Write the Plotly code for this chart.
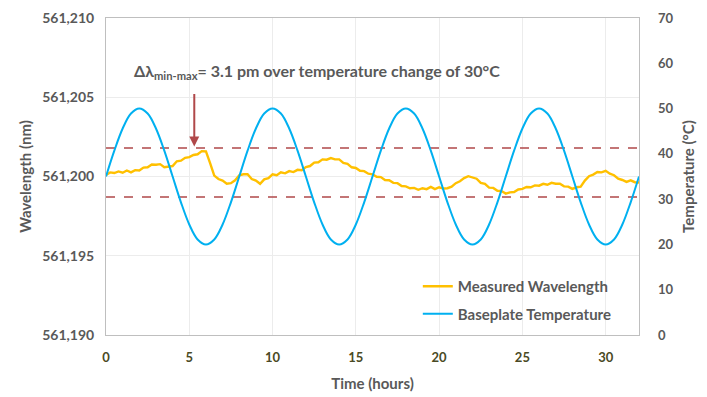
import plotly.graph_objects as go

# ---- data ----
time_wl = [i * 0.25 for i in range(129)]  # hours
# measured wavelength, offset from 561.200 nm in pm
wl_offset_pm = [
    0.10, 0.26, 0.22, 0.32, 0.24, 0.38, 0.26, 0.40, 0.38, 0.56, 0.58, 0.76, 0.74, 0.78, 0.58, 0.62,
    0.66, 0.96, 1.00, 1.18, 1.22, 1.36, 1.40, 1.60, 1.58, 0.85, 0.06, -0.16, -0.26, -0.46, -0.42, -0.24,
    0.08, 0.14, 0.14, -0.16, -0.26, -0.46, -0.18, -0.10, 0.14, 0.08, 0.26, 0.20, 0.34, 0.28, 0.42, 0.40,
    0.60, 0.66, 0.88, 0.90, 1.08, 1.06, 1.16, 1.08, 1.08, 0.86, 0.80, 0.58, 0.54, 0.36, 0.34, 0.18,
    0.14, -0.02, -0.04, -0.22, -0.24, -0.40, -0.42, -0.60, -0.62, -0.74, -0.72, -0.84, -0.74, -0.80, -0.66, -0.80,
    -0.68, -0.76, -0.74, -0.64, -0.42, -0.30, -0.10, 0.02, -0.06, -0.14, -0.40, -0.46, -0.70, -0.72, -0.90, -0.92,
    -1.08, -1.00, -0.98, -0.82, -0.78, -0.66, -0.68, -0.56, -0.58, -0.46, -0.52, -0.40, -0.46, -0.46, -0.62, -0.64,
    -0.78, -0.68, -0.64, -0.26, 0.02, 0.12, 0.28, 0.26, 0.36, 0.18, 0.08, -0.14, -0.22, -0.34, -0.24, -0.36,
    -0.38,
]
wl_base_nm = 561.200

time_temp = [i * 0.5 for i in range(65)]
temp_c = [
    35, 40.7, 45.6, 48.9, 50, 48.9, 45.6, 40.7, 35, 29.3, 24.4, 21.1, 20, 21.1, 24.4, 29.3,
    35, 40.7, 45.6, 48.9, 50, 48.9, 45.6, 40.7, 35, 29.3, 24.4, 21.1, 20, 21.1, 24.4, 29.3,
    35, 40.7, 45.6, 48.9, 50, 48.9, 45.6, 40.7, 35, 29.3, 24.4, 21.1, 20, 21.1, 24.4, 29.3,
    35, 40.7, 45.6, 48.9, 50, 48.9, 45.6, 40.7, 35, 29.3, 24.4, 21.1, 20, 21.1, 24.4, 29.3,
    35,
]

wl_max_line = 561.2018
wl_min_line = 561.1987
x_ticks = [0, 5, 10, 15, 20, 25, 30]
wl_ticks = [561.190, 561.195, 561.200, 561.205, 561.210]
temp_ticks = [0, 10, 20, 30, 40, 50, 60, 70]
arrow_x = 5.3
arrow_tip = 561.2019
arrow_tail = 561.2053

wl_nm = [wl_base_nm + v / 1000.0 for v in wl_offset_pm]

GRAY = "#595959"
FONT = "Lato"

fig = go.Figure()
fig.add_trace(go.Scatter(x=time_wl, y=wl_nm, mode="lines", name="Measured Wavelength",
                         legendgroup="a",
                         line=dict(color="#FFC000", width=2.4), yaxis="y"))
fig.add_trace(go.Scatter(x=time_temp, y=temp_c, mode="lines", name="Baseplate Temperature",
                         legendgroup="b",
                         line=dict(color="#00B0F0", width=2, shape="spline"), yaxis="y2"))
for lvl in (wl_max_line, wl_min_line):
    fig.add_trace(go.Scatter(x=[0, 32], y=[lvl, lvl], mode="lines", showlegend=False,
                             line=dict(color="#B0484A", width=1.5, dash="dash"), yaxis="y",
                             hoverinfo="skip"))

fig.add_annotation(x=arrow_x, y=arrow_tip, ax=arrow_x, ay=arrow_tail, xref="x", yref="y",
                   axref="x", ayref="y", showarrow=True, arrowhead=2, arrowsize=1,
                   arrowwidth=2, arrowcolor="#B0484A", text="")
fig.add_annotation(x=0.395, y=0.87, xref="paper", yref="paper", showarrow=False,
                   text="Δλ<sub>min-max</sub>= 3.1 pm over temperature change of 30°C",
                   font=dict(family=FONT, size=16, color=GRAY, weight="bold"))

fig.update_layout(
    width=699, height=389,
    margin=dict(l=98, r=68, t=10, b=62),
    paper_bgcolor="white", plot_bgcolor="white",
    separators=",.",
    showlegend=True,
    legend=dict(x=0.585, y=0.205, xanchor="left", yanchor="top", bgcolor="rgba(0,0,0,0)",
                font=dict(family=FONT, size=15, color=GRAY, weight="bold"),
                itemwidth=30, tracegroupgap=5),
    xaxis=dict(range=[0, 32], tickvals=x_ticks, showgrid=True, gridcolor="#ececec",
               showline=True, linecolor="#bfbfbf", mirror=True, zeroline=False, automargin=False,
               ticks="", ticklabelstandoff=10,
               tickfont=dict(family=FONT, size=13, color="#4a4a24", weight="bold"),
               title=dict(text="Time (hours)", font=dict(family=FONT, size=15, color=GRAY, weight="bold"),
                          standoff=14)),
    yaxis=dict(range=[561.190, 561.210], tickvals=wl_ticks, tickformat=".3f", automargin=False,
               showgrid=True, gridcolor="#ececec", showline=True, linecolor="#bfbfbf",
               mirror=True, zeroline=False, ticks="", ticklabelstandoff=8,
               tickfont=dict(family=FONT, size=14, color=GRAY, weight="bold"),
               title=dict(text="Wavelength (nm)", font=dict(family=FONT, size=15, color=GRAY, weight="bold"),
                          standoff=6)),
    yaxis2=dict(range=[0, 70], tickvals=temp_ticks, overlaying="y", side="right", automargin=False,
                showgrid=False, zeroline=False, showline=False, ticks="", ticklabelstandoff=18,
                tickfont=dict(family=FONT, size=13, color=GRAY, weight="bold"),
                title=dict(text="Temperature (°C)", font=dict(family=FONT, size=15, color=GRAY, weight="bold"),
                           standoff=10)),
)

fig.write_html("out.html")
